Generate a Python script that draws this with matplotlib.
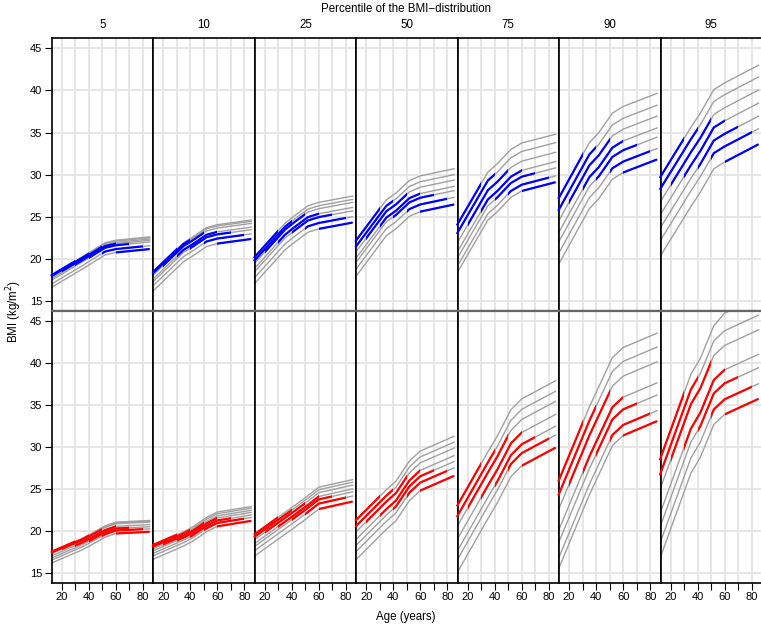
import matplotlib.pyplot as plt
from matplotlib.patches import Rectangle

plt.rcParams['font.family'] = ['Liberation Sans', 'DejaVu Sans']

AGES = [12, 35, 42, 52, 60, 85]
PERCENTILES = ["5", "10", "25", "50", "75", "90", "95"]

# observed age window of each cohort (youngest cohort = top curve first)
WIN_START = [0, 10, 20, 30, 40, 50, 60]
WIN_END = [30, 40, 50, 60, 70, 80, 90]

# =============================================================================
# top row (blue)
# =============================================================================
top_p05 = [[18.0, 20.2, 20.9, 21.9, 22.2, 22.6],
           [17.9, 20.1, 20.8, 21.8, 22.1, 22.5],
           [17.75, 19.95, 20.65, 21.65, 21.95, 22.35],
           [17.6, 19.8, 20.5, 21.5, 21.8, 22.2],
           [17.4, 19.6, 20.3, 21.3, 21.6, 22.0],
           [16.95, 19.15, 19.85, 20.85, 21.15, 21.55],
           [16.55, 18.75, 19.45, 20.45, 20.75, 21.15]]
top_p10 = [[18.35, 21.9, 22.6, 23.7, 24.05, 24.6],
           [18.2, 21.75, 22.45, 23.55, 23.9, 24.45],
           [17.95, 21.5, 22.2, 23.3, 23.65, 24.2],
           [17.5, 21.05, 21.75, 22.85, 23.2, 23.75],
           [17.2, 20.75, 21.45, 22.55, 22.9, 23.45],
           [16.7, 20.25, 20.95, 22.05, 22.4, 22.95],
           [16.1, 19.65, 20.35, 21.45, 21.8, 22.35]]
top_p25 = [[20.1, 24.2, 25.1, 26.3, 26.7, 27.45],
           [19.7, 23.8, 24.7, 25.9, 26.3, 27.05],
           [19.35, 23.45, 24.35, 25.55, 25.95, 26.7],
           [18.75, 22.85, 23.75, 24.95, 25.35, 26.1],
           [18.35, 22.45, 23.35, 24.55, 24.95, 25.7],
           [17.65, 21.75, 22.65, 23.85, 24.25, 25.0],
           [16.95, 21.05, 21.95, 23.15, 23.55, 24.3]]
top_p50 = [[22.05, 27.0, 27.8, 29.3, 29.85, 30.7],
           [21.35, 26.3, 27.1, 28.6, 29.15, 30.0],
           [20.7, 25.65, 26.45, 27.95, 28.5, 29.35],
           [19.95, 24.9, 25.7, 27.2, 27.75, 28.6],
           [19.45, 24.4, 25.2, 26.7, 27.25, 28.1],
           [18.65, 23.6, 24.4, 25.9, 26.45, 27.3],
           [17.8, 22.75, 23.55, 25.05, 25.6, 26.45]]
top_p75 = [[23.95, 30.3, 31.3, 33.0, 33.75, 34.8],
           [22.95, 29.3, 30.3, 32.0, 32.75, 33.8],
           [21.8, 28.15, 29.15, 30.85, 31.6, 32.65],
           [20.7, 27.05, 28.05, 29.75, 30.5, 31.55],
           [19.95, 26.3, 27.3, 29.0, 29.75, 30.8],
           [19.0, 25.35, 26.35, 28.05, 28.8, 29.85],
           [18.25, 24.6, 25.6, 27.3, 28.05, 29.1]]
top_p90 = [[27.1, 33.8, 35.0, 37.3, 38.1, 39.65],
           [25.7, 32.4, 33.6, 35.9, 36.7, 38.25],
           [24.4, 31.1, 32.3, 34.6, 35.4, 36.95],
           [23.0, 29.7, 30.9, 33.2, 34.0, 35.55],
           [21.9, 28.6, 29.8, 32.1, 32.9, 34.45],
           [20.55, 27.25, 28.45, 30.75, 31.55, 33.1],
           [19.25, 25.95, 27.15, 29.45, 30.25, 31.8]]
top_p95 = [[29.6, 35.6, 37.3, 40.1, 40.9, 43.0],
           [28.2, 34.2, 35.9, 38.7, 39.5, 41.6],
           [26.65, 32.65, 34.35, 37.15, 37.95, 40.05],
           [25.1, 31.1, 32.8, 35.6, 36.4, 38.5],
           [23.55, 29.55, 31.25, 34.05, 34.85, 36.95],
           [22.05, 28.05, 29.75, 32.55, 33.35, 35.45],
           [20.2, 26.2, 27.9, 30.7, 31.5, 33.6]]

# =============================================================================
# bottom row (red)
# =============================================================================
bot_p05 = [[17.5, 19.1, 19.7, 20.6, 21.05, 21.25],
           [17.4, 19.0, 19.6, 20.5, 20.95, 21.15],
           [17.3, 18.9, 19.5, 20.4, 20.85, 21.05],
           [17.0, 18.6, 19.2, 20.1, 20.55, 20.75],
           [16.75, 18.35, 18.95, 19.85, 20.3, 20.5],
           [16.5, 18.1, 18.7, 19.6, 20.05, 20.25],
           [16.15, 17.75, 18.35, 19.25, 19.7, 19.9]]
bot_p10 = [[18.3, 19.9, 20.5, 21.6, 22.25, 22.9],
           [18.1, 19.7, 20.3, 21.4, 22.05, 22.7],
           [17.85, 19.45, 20.05, 21.15, 21.8, 22.45],
           [17.6, 19.2, 19.8, 20.9, 21.55, 22.2],
           [17.3, 18.9, 19.5, 20.6, 21.25, 21.9],
           [17.0, 18.6, 19.2, 20.3, 20.95, 21.6],
           [16.6, 18.2, 18.8, 19.9, 20.55, 21.2]]
bot_p25 = [[19.55, 22.2, 23.0, 24.2, 25.2, 26.1],
           [19.25, 21.9, 22.7, 23.9, 24.9, 25.8],
           [18.9, 21.55, 22.35, 23.55, 24.55, 25.45],
           [18.45, 21.1, 21.9, 23.1, 24.1, 25.0],
           [18.1, 20.75, 21.55, 22.75, 23.75, 24.65],
           [17.6, 20.25, 21.05, 22.25, 23.25, 24.15],
           [16.95, 19.6, 20.4, 21.6, 22.6, 23.5]]
bot_p50 = [[21.2, 24.9, 25.9, 28.3, 29.5, 31.25],
           [20.5, 24.2, 25.2, 27.6, 28.8, 30.55],
           [19.8, 23.5, 24.5, 26.9, 28.1, 29.85],
           [18.9, 22.6, 23.6, 26.0, 27.2, 28.95],
           [18.2, 21.9, 22.9, 25.3, 26.5, 28.25],
           [17.45, 21.15, 22.15, 24.55, 25.75, 27.5],
           [16.5, 20.2, 21.2, 23.6, 24.8, 26.55]]
bot_p75 = [[22.9, 29.4, 31.3, 34.4, 35.7, 37.85],
           [21.65, 28.15, 30.05, 33.15, 34.45, 36.6],
           [20.45, 26.95, 28.85, 31.95, 33.25, 35.4],
           [18.9, 25.4, 27.3, 30.4, 31.7, 33.85],
           [17.5, 24.0, 25.9, 29.0, 30.3, 32.45],
           [16.45, 22.95, 24.85, 27.95, 29.25, 31.4],
           [14.95, 21.45, 23.35, 26.45, 27.75, 29.9]]
bot_p90 = [[25.85, 34.75, 37.15, 40.6, 41.8, 43.5],
           [24.2, 33.1, 35.5, 38.95, 40.15, 41.85],
           [22.45, 31.35, 33.75, 37.2, 38.4, 40.1],
           [19.95, 28.85, 31.25, 34.7, 35.9, 37.6],
           [18.5, 27.4, 29.8, 33.25, 34.45, 36.15],
           [16.65, 25.55, 27.95, 31.4, 32.6, 34.3],
           [15.4, 24.3, 26.7, 30.15, 31.35, 33.05]]
bot_p95 = [[28.4, 38.6, 40.5, 44.4, 45.9, 47.6],
           [26.6, 36.8, 38.7, 42.6, 43.8, 45.65],
           [24.85, 35.05, 36.95, 40.85, 42.05, 43.9],
           [21.95, 32.15, 34.05, 37.95, 39.15, 41.0],
           [20.35, 30.55, 32.45, 36.35, 37.55, 39.4],
           [18.45, 28.65, 30.55, 34.45, 35.65, 37.5],
           [16.65, 26.85, 28.75, 32.65, 33.85, 35.7]]

top_panels = [top_p05, top_p10, top_p25, top_p50, top_p75, top_p90, top_p95]
bot_panels = [bot_p05, bot_p10, bot_p25, bot_p50, bot_p75, bot_p90, bot_p95]

W, H = 761, 625
fig, axes = plt.subplots(2, 7, figsize=(W / 100, H / 100), dpi=100,
                         sharex=True, sharey=True)
plt.subplots_adjust(left=51.7 / W, right=762 / W, top=1 - 38.3 / H,
                    bottom=1 - 582.7 / H, wspace=0, hspace=0)

for r, (panels, colour) in enumerate([(top_panels, "#0000ff"), (bot_panels, "#ff0000")]):
    for p, curves in enumerate(panels):
        ax = axes[r, p]
        ax.set_xlim(12.6, 87.6)
        ax.set_ylim(13.85, 46.2)
        ax.set_xticks(range(20, 90, 10))
        ax.set_yticks(range(15, 50, 5))
        ax.grid(True, color="#e4e4e4", lw=1.3)
        ax.set_axisbelow(True)

        # grey: whole modelled trajectory of each cohort
        for c in curves:
            ax.plot(AGES, c, color="#a0a0a0", lw=1.0, zorder=2)
        # coloured: the part inside the observed age window
        for c, lo, hi in zip(curves, WIN_START, WIN_END):
            ln, = ax.plot(AGES, c, color=colour, lw=1.6, zorder=3,
                          solid_capstyle="butt")
            ln.set_clip_path(Rectangle((lo, 0), hi - lo, 100,
                                       transform=ax.transData))

        for s in ax.spines.values():
            s.set_color("black")
            s.set_linewidth(1.2)
        if r == 0:
            ax.spines["bottom"].set_color("#666666")
            ax.spines["bottom"].set_linewidth(1.6)
        else:
            ax.spines["top"].set_color("#666666")
            ax.spines["top"].set_linewidth(1.6)

        ax.tick_params(direction="out", length=5, width=0.8, labelsize=8,
                       colors="black", pad=2)
        ax.tick_params(axis="x", bottom=(r == 1), labelbottom=(r == 1))
        ax.tick_params(axis="y", left=(p == 0), labelleft=(p == 0))
        if r == 1:
            ax.set_xticklabels(["20", "", "40", "", "60", "", "80"])

# column labels and titles
x0, x1 = 51.7 / W, 762 / W
for p, lab in enumerate(PERCENTILES):
    xc = x0 + (p + 0.5) * (x1 - x0) / 7
    fig.text(xc, 1 - 25 / H, lab, ha="center", va="center", fontsize=8.3)
fig.text(406 / W, 1 - 9 / H, "Percentile of the BMI\u2212distribution",
         ha="center", va="center", fontsize=8.3)
fig.text(406 / W, 1 - 617 / H, "Age (years)", ha="center", va="center",
         fontsize=8.3)
fig.text(14 / W, 1 - 311 / H, "BMI (kg/m$^2$)", ha="center", va="center",
         rotation=90, fontsize=8.3)

plt.savefig("out.png", dpi=100)
